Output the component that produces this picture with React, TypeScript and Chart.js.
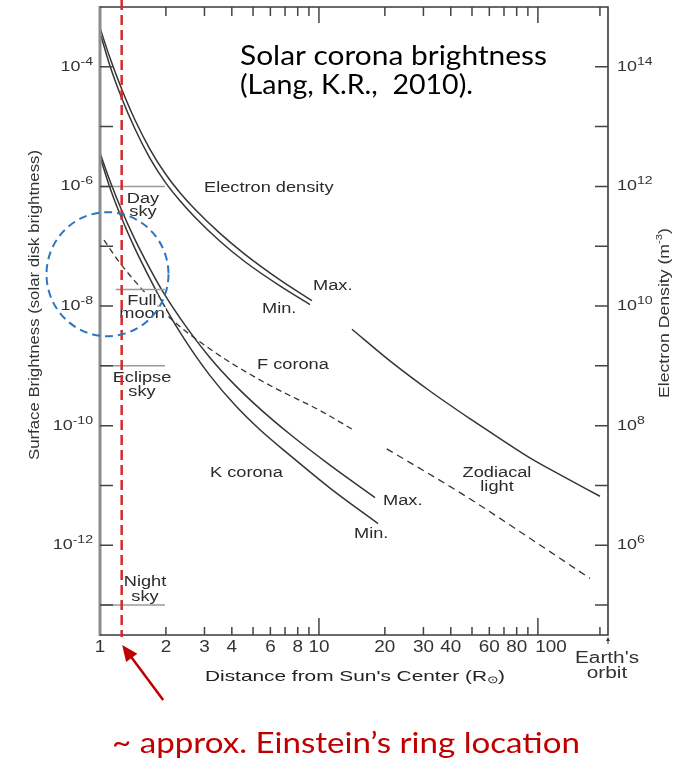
import React, { useEffect, useRef } from 'react';
import { Chart, registerables } from 'chart.js';
Chart.register(...registerables);

// ---- data (distance in solar radii) ----
const NE_MAX_R = [1.0, 1.111, 1.256, 1.445, 1.692, 1.981, 2.319, 2.715, 3.532, 4.593, 6.635, 9.29];
const NE_MAX = [4.46e14, 1.40e14, 4.26e13, 1.29e13, 4.18e12, 1.66e12, 7.82e11, 4.14e11, 1.64e11, 7.33e10, 2.74e10, 1.23e10];
const NE_MIN_R = [1.011, 1.111, 1.256, 1.445, 1.692, 1.981, 2.319, 2.715, 3.532, 4.593, 6.635, 9.1];
const NE_MIN = [3.27e14, 1.03e14, 3.01e13, 9.12e12, 2.95e12, 1.19e12, 5.75e11, 3.05e11, 1.21e11, 5.5e10, 2.17e10, 1.06e10];
const NE_FAR_R = [14.15, 21.1, 32.1, 48.9, 67.1, 91.9, 126, 192];
const NE_FAR = [4.1e9, 1.21e9, 3.8e8, 1.31e8, 6.1e7, 2.9e7, 1.52e7, 6.6e6];
const K_MAX_R = [1.0, 1.111, 1.256, 1.445, 1.692, 1.981, 2.445, 3.18, 4.136, 5.38, 7.376, 11.23, 18.03];
const K_MAX = [3.62e-6, 1.23e-6, 3.99e-7, 1.29e-7, 4.2e-8, 1.52e-8, 4.8e-9, 1.37e-9, 4.76e-10, 1.91e-10, 7.18e-11, 2.19e-11, 6.29e-12];
const K_MIN_R = [1.011, 1.111, 1.256, 1.445, 1.692, 1.981, 2.445, 3.18, 4.136, 5.38, 7.376, 11.23, 18.61];
const K_MIN = [2.77e-6, 9.42e-7, 2.93e-7, 9.12e-8, 2.85e-8, 9.59e-9, 2.69e-9, 6.87e-10, 2.21e-10, 8.53e-11, 3.19e-11, 9.04e-12, 2.3e-12];
const F_R = [1.043, 1.208, 1.572, 2.2, 3.422, 4.843, 6.299, 10.11, 14.61];
const F_CORONA = [1.27e-7, 5.82e-8, 1.83e-8, 5.35e-9, 1.59e-9, 7.23e-10, 4.25e-10, 1.79e-10, 8.17e-11];
const ZODI_R = [20.4, 45.4, 91.9, 172.8];
const ZODI = [4.1e-11, 7.1e-12, 1.31e-12, 2.8e-13];
const SKY_NAMES = ['Day sky', 'Full moon', 'Eclipse sky', 'Night sky'];
const SKY_LEVEL = [1e-6, 1.9e-8, 1e-9, 1e-13];
const SKY_FROM = [1, 1.18, 1, 1];
const SKY_TO = [1.98, 1.98, 1.98, 1.98];

const X_MIN = 1;
const X_MAX = 209;
const X_TICKS = [2, 3, 4, 5, 6, 7, 8, 9, 10, 20, 30, 40, 50, 60, 70, 80, 90, 100];
const X_LABELS = [1, 2, 3, 4, 6, 8, 10, 20, 30, 40, 60, 80, 100];
const EARTH_ORBIT_R = 192;
const Y_EXP_MIN = -13.5;
const Y_EXP_MAX = -3;
const Y_TICK_EXP = [-13, -12, -11, -10, -9, -8, -7, -6, -5, -4];
const Y_LABEL_EXP = [-12, -10, -8, -6, -4];
const NE_EXP_MIN = 4.5;
const NE_EXP_MAX = 15;
const NE_TICK_EXP = [5, 6, 7, 8, 9, 10, 11, 12, 13, 14];
const NE_LABEL_EXP = [6, 8, 10, 12, 14];
const EINSTEIN_R = 1.256;
const CIRCLE_R = 1.082;
const CIRCLE_B = 3.41e-8;

const FONT = 'Liberation Sans';
const TXT = '#2b2b2b';

type Part = [string, number, number];

function drawRich(ctx: CanvasRenderingContext2D, parts: Part[], x: number, y: number, align: string, k: number, color: string, family = FONT, targetW = 0, weight = 'normal', baseline: CanvasTextBaseline = 'middle') {
  ctx.save();
  ctx.fillStyle = color;
  ctx.textBaseline = baseline;
  ctx.textAlign = 'left';
  const widths = parts.map(([t, s]) => {
    ctx.font = `${weight} ${s}px "${family}"`;
    return ctx.measureText(t).width;
  });
  const raw = widths.reduce((a, b) => a + b, 0);
  const kk = targetW ? targetW / raw : k;
  const total = raw * kk;
  const left = align === 'center' ? x - total / 2 : align === 'right' ? x - total : x;
  ctx.translate(left, y);
  ctx.scale(kk, 1);
  let cx = 0;
  parts.forEach(([t, s, dy], i) => {
    ctx.font = `${weight} ${s}px "${family}"`;
    ctx.fillText(t, cx, dy);
    cx += widths[i];
  });
  ctx.restore();
  return total;
}

function label(ctx: CanvasRenderingContext2D, t: string, x: number, y: number, align = 'left', bg = false) {
  if (bg) {
    ctx.save();
    ctx.font = `14px "${FONT}"`;
    const w = ctx.measureText(t).width * 1.3;
    const l = align === 'center' ? x - w / 2 : x;
    ctx.fillStyle = '#ffffff';
    ctx.fillRect(l - 1, y - 7, w + 2, 14);
    ctx.restore();
  }
  drawRich(ctx, [[t, 14, 0]], x, y, align, 1.3, TXT);
}

const overlay = {
  id: 'overlay',
  beforeDraw(chart: any) {
    const { ctx, width, height } = chart;
    ctx.save();
    ctx.fillStyle = '#ffffff';
    ctx.fillRect(0, 0, width, height);
    ctx.restore();
  },
  afterDatasetsDraw(chart: any) {
    const { ctx, chartArea: a, scales } = chart;
    const xs = scales.x, ys = scales.y, y2 = scales.y2;
    ctx.save();
    // frame
    ctx.lineCap = 'butt';
    ctx.strokeStyle = '#8c8c8c';
    ctx.lineWidth = 3;
    ctx.beginPath(); ctx.moveTo(a.left, a.top - 1); ctx.lineTo(a.left, a.bottom + 1); ctx.stroke();
    ctx.strokeStyle = '#3a3a3a';
    ctx.lineWidth = 1.6;
    ctx.beginPath();
    ctx.moveTo(a.left, a.top); ctx.lineTo(a.right, a.top); ctx.lineTo(a.right, a.bottom); ctx.lineTo(a.left, a.bottom);
    ctx.stroke();
    // ticks
    ctx.strokeStyle = '#444';
    ctx.lineWidth = 1.5;
    ctx.beginPath();
    Y_TICK_EXP.forEach((e) => {
      const p = ys.getPixelForValue(Math.pow(10, e));
      ctx.moveTo(a.left, p); ctx.lineTo(a.left + 13, p);
    });
    NE_TICK_EXP.forEach((e) => {
      const p = y2.getPixelForValue(Math.pow(10, e));
      ctx.moveTo(a.right, p); ctx.lineTo(a.right - 13, p);
    });
    [...X_TICKS, EARTH_ORBIT_R].forEach((v) => {
      const p = xs.getPixelForValue(v);
      const long = v === 10 || v === 100;
      ctx.moveTo(p, a.bottom); ctx.lineTo(p, a.bottom - (long ? 17 : 8));
      ctx.moveTo(p, a.top); ctx.lineTo(p, a.top + (long ? 16 : 9));
    });
    ctx.stroke();

    // x tick labels
    X_LABELS.forEach((v) => {
      const p = xs.getPixelForValue(v) + (v === 100 ? 13 : 0);
      drawRich(ctx, [[String(v), 16, 0]], p, a.bottom + 13, 'center', 1.18, '#333');
    });
    // Earth's orbit
    const ex = a.right - 1;
    drawRich(ctx, [["Earth's", 16, 0]], ex, a.bottom + 24, 'center', 1.3, '#333');
    drawRich(ctx, [['orbit', 16, 0]], ex, a.bottom + 39, 'center', 1.3, '#333');
    ctx.fillStyle = '#333';
    ctx.beginPath();
    ctx.moveTo(a.right, a.bottom + 2); ctx.lineTo(a.right - 2, a.bottom + 6); ctx.lineTo(a.right + 2, a.bottom + 6); ctx.closePath(); ctx.fill();
    ctx.strokeStyle = '#333'; ctx.lineWidth = 1;
    ctx.beginPath(); ctx.moveTo(a.right, a.bottom + 5); ctx.lineTo(a.right, a.bottom + 9); ctx.stroke();

    // y labels
    Y_LABEL_EXP.forEach((e) => {
      const p = ys.getPixelForValue(Math.pow(10, e));
      drawRich(ctx, [['10', 14, 0], [String(e), 11, -5]], a.left - 7, p, 'right', 1.28, '#333');
    });
    NE_LABEL_EXP.forEach((e) => {
      const p = y2.getPixelForValue(Math.pow(10, e));
      drawRich(ctx, [['10', 14, 0], [String(e), 11, -5]], a.right + 9, p, 'left', 1.28, '#333');
    });

    // axis titles
    drawRich(ctx, [["Distance from Sun's Center (R", 15, 0], ['\u2299', 10, 3], [')', 15, 0]], 355, a.bottom + 42, 'center', 1, '#222', FONT, 300);
    ctx.save();
    ctx.translate(35, 305); ctx.rotate(-Math.PI / 2);
    drawRich(ctx, [['Surface Brightness (solar disk brightness)', 14, 0]], 0, 0, 'center', 1, '#333', FONT, 310);
    ctx.restore();
    ctx.save();
    ctx.translate(665, 313); ctx.rotate(-Math.PI / 2);
    drawRich(ctx, [['Electron Density (m', 14, 0], ['-3', 9, -5], [')', 14, 0]], 0, 0, 'center', 1, '#333', FONT, 170);
    ctx.restore();

    // curve labels
    label(ctx, 'Electron density', 204, 188);
    label(ctx, 'Max.', 313, 286);
    label(ctx, 'Min.', 262, 309);
    label(ctx, 'F corona', 257, 365);
    label(ctx, 'K corona', 210, 473);
    label(ctx, 'Max.', 383, 501);
    label(ctx, 'Min.', 354, 534);
    label(ctx, 'Zodiacal', 497, 473, 'center');
    label(ctx, 'light', 497, 487, 'center');
    label(ctx, 'Day', 143, 199, 'center');
    label(ctx, 'sky', 143, 212, 'center');
    label(ctx, 'Full', 142, 301, 'center', true);
    label(ctx, 'moon', 142, 314, 'center', true);
    label(ctx, 'Eclipse', 142, 378, 'center');
    label(ctx, 'sky', 142, 392, 'center');
    label(ctx, 'Night', 145, 582, 'center');
    label(ctx, 'sky', 145, 597, 'center');

    // title
    drawRich(ctx, [['Solar corona brightness', 27, 0]], 240, 65, 'left', 1, '#000', 'Lato', 307, 'normal', 'alphabetic');
    drawRich(ctx, [['(Lang, K.R.,  2010).', 27, 0]], 240, 94, 'left', 1, '#000', 'Lato', 233, 'normal', 'alphabetic');

    // Einstein ring marker
    const rx = xs.getPixelForValue(EINSTEIN_R);
    ctx.strokeStyle = '#d42a2a';
    ctx.lineWidth = 2.5;
    ctx.setLineDash([10, 5]);
    ctx.beginPath(); ctx.moveTo(rx, 0); ctx.lineTo(rx, a.bottom + 2); ctx.stroke();
    ctx.setLineDash([]);
    // arrow
    const tipX = rx + 0.5, tipY = a.bottom + 10;
    const tailX = tipX + 41, tailY = tipY + 55;
    const ang = Math.atan2(tipY - tailY, tipX - tailX);
    ctx.strokeStyle = '#c00000';
    ctx.fillStyle = '#c00000';
    ctx.lineWidth = 2.5;
    ctx.beginPath();
    ctx.moveTo(tailX, tailY);
    ctx.lineTo(tipX - 12 * Math.cos(ang), tipY - 12 * Math.sin(ang));
    ctx.stroke();
    ctx.beginPath();
    ctx.moveTo(tipX, tipY);
    ctx.lineTo(tipX - 16 * Math.cos(ang) + 7 * Math.sin(ang), tipY - 16 * Math.sin(ang) - 7 * Math.cos(ang));
    ctx.lineTo(tipX - 16 * Math.cos(ang) - 7 * Math.sin(ang), tipY - 16 * Math.sin(ang) + 7 * Math.cos(ang));
    ctx.closePath();
    ctx.fill();
    drawRich(ctx, [['~ approx. Einstein\u2019s ring location', 28, 0]], 112, 753, 'left', 1, '#c00000', 'Lato', 468, 'normal', 'alphabetic');

    // blue dashed circle
    const cx = xs.getPixelForValue(CIRCLE_R);
    const cy = ys.getPixelForValue(CIRCLE_B);
    ctx.strokeStyle = '#2e75c0';
    ctx.lineWidth = 2;
    ctx.setLineDash([8, 5]);
    ctx.beginPath();
    ctx.ellipse(cx, cy, 61, 62, 0, 0, Math.PI * 2);
    ctx.stroke();
    ctx.setLineDash([]);
    ctx.restore();
  },
};

function pts(xs: number[], ys: number[]) {
  return xs.map((x, i) => ({ x, y: ys[i] }));
}

export default function App() {
  const ref = useRef<HTMLCanvasElement | null>(null);
  useEffect(() => {
    if (!ref.current) return;
    const curve = (label: string, xs: number[], ys: number[], axis: string, extra: any = {}) => ({
      label,
      data: pts(xs, ys),
      yAxisID: axis,
      borderColor: '#353535',
      borderWidth: 1.5,
      pointRadius: 0,
      fill: false,
      cubicInterpolationMode: 'monotone',
      ...extra,
    });
    const sky = SKY_NAMES.map((n, i) => ({
      label: n,
      data: [{ x: SKY_FROM[i], y: SKY_LEVEL[i] }, { x: SKY_TO[i], y: SKY_LEVEL[i] }],
      yAxisID: 'y',
      borderColor: '#9a9a9a',
      borderWidth: 1.5,
      pointRadius: 0,
      fill: false,
    }));
    const chart = new Chart(ref.current, {
      type: 'line',
      data: {
        datasets: [
          ...sky,
          curve('Electron density (max)', NE_MAX_R, NE_MAX, 'y2'),
          curve('Electron density (min)', NE_MIN_R, NE_MIN, 'y2'),
          curve('Electron density (outer)', NE_FAR_R, NE_FAR, 'y2'),
          curve('K corona (max)', K_MAX_R, K_MAX, 'y'),
          curve('K corona (min)', K_MIN_R, K_MIN, 'y'),
          curve('F corona', F_R, F_CORONA, 'y', { borderDash: [6, 4], borderWidth: 1.3 }),
          curve('Zodiacal light', ZODI_R, ZODI, 'y', { borderDash: [7, 5], borderWidth: 1.3 }),
        ] as any,
      },
      options: {
        responsive: false,
        animation: false,
        devicePixelRatio: 1,
        layout: { padding: { left: 100, right: 79, top: 7, bottom: 128 } },
        plugins: { legend: { display: false }, tooltip: { enabled: false } },
        events: [],
        scales: {
          x: { type: 'logarithmic', min: X_MIN, max: X_MAX, display: false },
          y: { type: 'logarithmic', min: Math.pow(10, Y_EXP_MIN), max: Math.pow(10, Y_EXP_MAX), display: false },
          y2: { type: 'logarithmic', position: 'right', min: Math.pow(10, NE_EXP_MIN), max: Math.pow(10, NE_EXP_MAX), display: false },
        },
      } as any,
      plugins: [overlay],
    });
    return () => chart.destroy();
  }, []);
  return (
    <div style={{ position: 'fixed', left: 0, top: 0, width: 687, height: 763, background: '#fff' }}>
      <canvas ref={ref} width={687} height={763} />
    </div>
  );
}
